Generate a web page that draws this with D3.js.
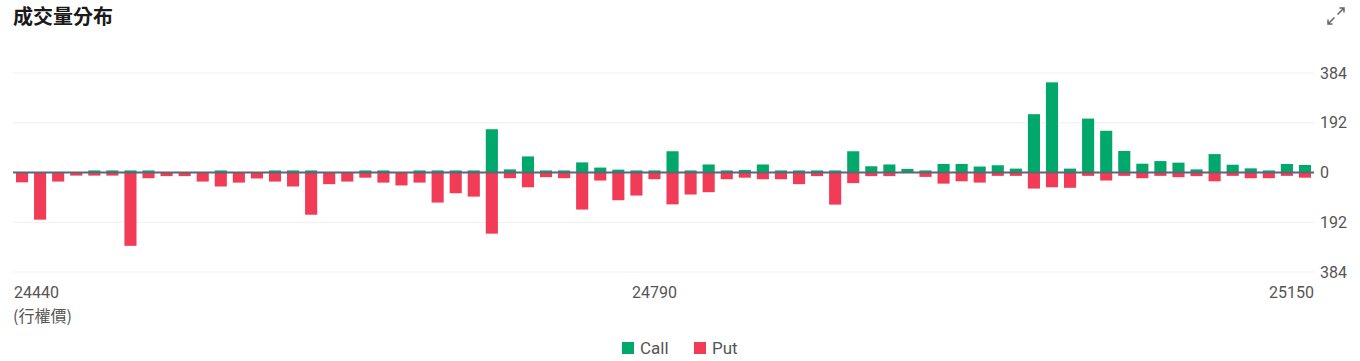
<!DOCTYPE html>
<html>
<head>
<meta charset="utf-8">
<script src="https://cdn.jsdelivr.net/npm/d3@7"></script>
<style>
  body { margin: 0; background: #fff; font-family: Roboto, "Noto Sans CJK TC", sans-serif; }
  svg { display: block; }
</style>
</head>
<body>
<svg id="chart" width="1360" height="361"></svg>
<script>
// strikes 24440 .. 25150 step 10
var strikes = d3.range(24440, 25151, 10)

var callVol = [2, 2, 2, 2, 8, 8, 8, 8, 2, 2,
           2, 8, 2, 2, 8, 8, 8, 2, 2, 8,
           8, 2, 8, 8, 8, 8, 167, 12, 62, 8,
           8, 39, 19, 11, 8, 8, 82, 8, 31, 8,
           10, 31, 8, 8, 8, 8, 82, 24, 31, 14,
           8, 33, 33, 23, 28, 15, 225, 348, 15, 208,
           161, 83, 34, 44, 38, 12, 71, 30, 16, 8,
           33, 29]

var putVol = [38, 182, 35, 12, 12, 12, 283, 22, 14, 14,
          35, 54, 39, 23, 35, 54, 163, 45, 35, 20,
          39, 50, 39, 116, 80, 93, 236, 22, 57, 18,
          22, 143, 31, 107, 89, 26, 123, 85, 76, 26,
          20, 26, 26, 45, 14, 124, 41, 14, 14, 2,
          17, 43, 34, 39, 13, 13, 62, 57, 59, 13,
          31, 13, 22, 13, 18, 14, 34, 13, 22, 22,
          13, 20]

var yTicks = [-384, -192, 0, 192, 384]
var xLabels = [24440, 24790, 25150]

var callColor = "#00a86b"
var putColor = "#f23b57"

var svg = d3.select("#chart")

var plotLeft = 13
var plotRight = 1314
var plotTop = 73
var plotBottom = 272

var x = d3.scaleBand()
  .domain(strikes)
  .range([plotLeft, plotRight])
  .paddingInner(0.33)
  .paddingOuter(0.165)

var y = d3.scaleLinear()
  .domain([-384, 384])
  .range([plotBottom, plotTop])

// title
svg.append("text")
  .attr("x", 13)
  .attr("y", 24)
  .attr("fill", "#1a1a1a")
  .style("font-family", "'Noto Sans CJK TC', sans-serif")
  .style("font-size", "20px")
  .style("font-weight", "bold")
  .text("成交量分布")

// expand icon
var icon = svg.append("g")
  .attr("transform", "translate(1336,16)")
  .attr("stroke", "#666")
  .attr("stroke-width", 1.5)
  .attr("fill", "none")
icon.append("path").attr("d", "M1.5,-1.5 L8,-8 M3.5,-8 L8,-8 L8,-3.5")
icon.append("path").attr("d", "M-1.5,1.5 L-8,8 M-8,3.5 L-8,8 L-3.5,8")

// grid lines
svg.append("g")
  .selectAll("line")
  .data(yTicks.filter(d => d != 0))
  .join("line")
  .attr("x1", plotLeft)
  .attr("x2", plotRight)
  .attr("y1", d => y(d))
  .attr("y2", d => y(d))
  .attr("stroke", "#f0f0f0")
  .attr("stroke-width", 1)

// y axis on the right
var yAxis = svg.append("g")
  .attr("transform", "translate(" + (plotRight + 6) + ",0)")
  .call(d3.axisRight(y).tickValues(yTicks).tickSize(0).tickFormat(d => Math.abs(d)))
yAxis.select(".domain").remove()
yAxis.selectAll("text")
  .attr("x", 0)
  .attr("fill", "#555")
  .style("font-family", "Roboto, sans-serif")
  .style("font-size", "16px")

// call bars
svg.append("g")
  .selectAll("rect")
  .data(strikes)
  .join("rect")
  .attr("x", d => x(d))
  .attr("width", x.bandwidth())
  .attr("y", (d, i) => y(callVol[i]))
  .attr("height", (d, i) => y(0) - y(callVol[i]))
  .attr("fill", callColor)

// put bars
svg.append("g")
  .selectAll("rect")
  .data(strikes)
  .join("rect")
  .attr("x", d => x(d))
  .attr("width", x.bandwidth())
  .attr("y", y(0))
  .attr("height", (d, i) => y(-putVol[i]) - y(0))
  .attr("fill", putColor)

// zero line
svg.append("line")
  .attr("x1", plotLeft)
  .attr("x2", plotRight)
  .attr("y1", y(0))
  .attr("y2", y(0))
  .attr("stroke", "#5c6677")
  .attr("stroke-width", 2)

// x axis labels
var xAxis = svg.append("g")
  .attr("transform", "translate(0," + plotBottom + ")")
  .call(d3.axisBottom(x).tickValues(xLabels).tickSize(0))
xAxis.select(".domain").remove()
xAxis.selectAll("text")
  .attr("y", 26)
  .attr("dy", 0)
  .attr("fill", "#555")
  .style("font-family", "Roboto, sans-serif")
  .style("font-size", "16px")
  .attr("text-anchor", (d, i) => i == 0 ? "start" : (i == xLabels.length - 1 ? "end" : "middle"))
  .attr("dx", (d, i) => i == 0 ? -(x(d) + x.bandwidth() / 2 - 14) : (i == xLabels.length - 1 ? (plotRight - x(d) - x.bandwidth() / 2) : 0))

svg.append("text")
  .attr("x", 13)
  .attr("y", 322)
  .attr("fill", "#555")
  .style("font-family", "'Noto Sans CJK TC', sans-serif")
  .style("font-size", "16px")
  .text("(行權價)")

// legend
var legend = [["Call", callColor, 622], ["Put", putColor, 694]]
var lg = svg.append("g")
legend.forEach(function(l) {
  lg.append("rect")
    .attr("x", l[2])
    .attr("y", 342)
    .attr("width", 12)
    .attr("height", 12)
    .attr("fill", l[1])
  lg.append("text")
    .attr("x", l[2] + 18)
    .attr("y", 354)
    .attr("fill", "#555")
    .style("font-family", "Roboto, sans-serif")
    .style("font-size", "17px")
    .text(l[0])
})
</script>
</body>
</html>
